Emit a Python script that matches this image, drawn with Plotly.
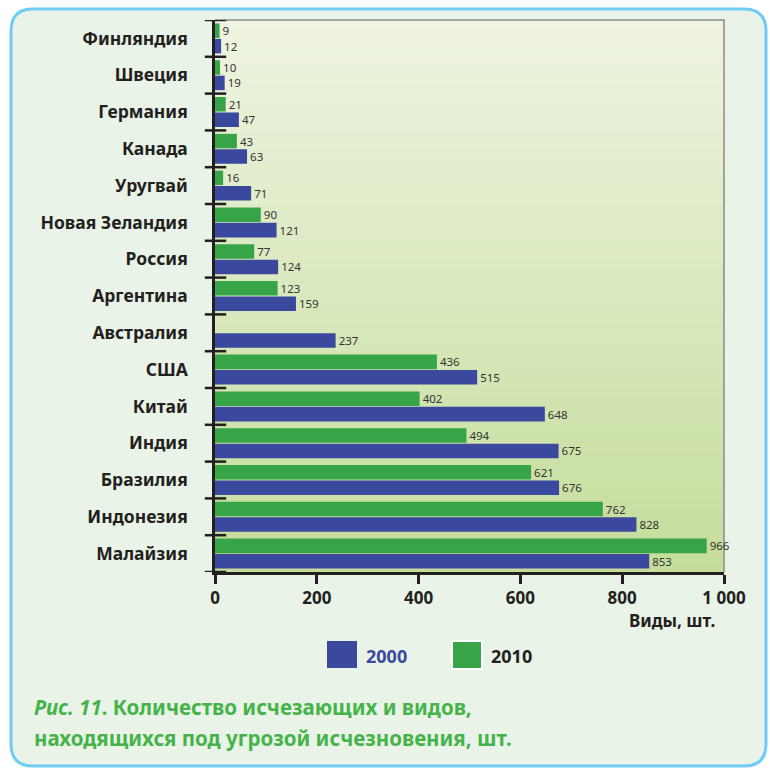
import plotly.graph_objects as go

# Threatened species counts by country (bottom to top on the chart)
countries = ["Малайзия", "Индонезия", "Бразилия", "Индия", "Китай", "США",
             "Австралия", "Аргентина", "Россия", "Новая Зеландия", "Уругвай",
             "Канада", "Германия", "Швеция", "Финляндия"]
species_2000 = [853, 828, 676, 675, 648, 515, 237, 159, 124, 121, 71, 63, 47, 19, 12]
species_2010 = [966, 762, 621, 494, 402, 436, None, 123, 77, 90, 16, 43, 21, 10, 9]

x_ticks = [0, 200, 400, 600, 800, 1000]
x_tick_text = ["0", "200", "400", "600", "800", "1 000"]

W, H = 770, 769
BLUE = "#3a499e"
GREEN = "#37a547"
CAPTION = "#46b34a"
FONT = "Noto Sans"


def px(x):
    return x / W


def py(y):
    return 1 - y / H


def labels(vals):
    return ["" if v is None else str(v) for v in vals]


fig = go.Figure()
fig.add_trace(go.Bar(
    y=countries, x=species_2000, orientation="h", name="2000",
    marker=dict(color=BLUE, line=dict(width=0)),
    text=labels(species_2000), textposition="outside", cliponaxis=False,
    constraintext="none",
    textfont=dict(family=FONT, size=11.5, color="#333333"),
))
fig.add_trace(go.Bar(
    y=countries, x=species_2010, orientation="h", name="2010",
    marker=dict(color=GREEN, line=dict(width=0)),
    text=labels(species_2010), textposition="outside", cliponaxis=False,
    constraintext="none",
    textfont=dict(family=FONT, size=11.5, color="#333333"),
))

shapes = []
# rounded frame around the whole figure
x0, x1, y0, y1, r = px(11), px(766), py(9), py(766), 22
rx, ry = r / W, r / H
path = (f"M {x0+rx},{y0} L {x1-rx},{y0} Q {x1},{y0} {x1},{y0-ry} "
        f"L {x1},{y1+ry} Q {x1},{y1} {x1-rx},{y1} L {x0+rx},{y1} "
        f"Q {x0},{y1} {x0},{y1+ry} L {x0},{y0-ry} Q {x0},{y0} {x0+rx},{y0} Z")
shapes.append(dict(type="path", path=path, xref="paper", yref="paper",
                   fillcolor="#e9f3e7", line=dict(color="#6fcdf3", width=3),
                   layer="below"))

# vertical gradient behind the bars
top_c = (239, 244, 226)
bot_c = (196, 221, 154)
n = 60
for i in range(n):
    t = (i + 0.5) / n
    c = tuple(round(top_c[k] + (bot_c[k] - top_c[k]) * t) for k in range(3))
    shapes.append(dict(type="rect", xref="x domain", yref="y domain",
                       x0=0, x1=1, y0=1 - (i + 1) / n - 0.002, y1=1 - i / n,
                       fillcolor=f"rgb{c}", line=dict(width=0), layer="below"))

# thin grey frame on top and right of the plotting area
shapes.append(dict(type="path", xref="x domain", yref="y domain",
                   path="M 0,1 L 1,1 L 1,0", line=dict(color="#8a8a8a", width=1.5),
                   layer="below"))

# crossing tick marks at category boundaries
for i in range(len(countries) + 1):
    shapes.append(dict(type="line", xref="x domain", yref="y",
                       x0=-0.02, x1=0.022, y0=i - 0.5, y1=i - 0.5,
                       line=dict(color="#231f20", width=2.5)))

# legend
shapes.append(dict(type="rect", xref="paper", yref="paper",
                   x0=px(327), x1=px(357), y0=py(668), y1=py(641),
                   fillcolor=BLUE, line=dict(width=0)))
shapes.append(dict(type="rect", xref="paper", yref="paper",
                   x0=px(452), x1=px(482), y0=py(669), y1=py(641),
                   fillcolor=GREEN, line=dict(color="white", width=2)))

annotations = [
    dict(text="2000", x=px(364), y=py(656), xref="paper", yref="paper",
         xanchor="left", yanchor="middle", showarrow=False,
         font=dict(family=FONT, size=18, color=BLUE, weight="bold")),
    dict(text="2010", x=px(489), y=py(656), xref="paper", yref="paper",
         xanchor="left", yanchor="middle", showarrow=False,
         font=dict(family=FONT, size=18, color="#231f20", weight="bold")),
    dict(text="Виды, шт.", x=px(717), y=py(620), xref="paper", yref="paper",
         xanchor="right", yanchor="middle", showarrow=False,
         font=dict(family=FONT, size=17, color="#231f20", weight="bold")),
    dict(text="<i>Рис. 11</i>. Количество исчезающих и видов,",
         x=px(32), y=py(707), xref="paper", yref="paper",
         xanchor="left", yanchor="middle", showarrow=False,
         font=dict(family=FONT, size=20.5, color=CAPTION, weight="bold")),
    dict(text="находящихся под угрозой исчезновения, шт.",
         x=px(32), y=py(738), xref="paper", yref="paper",
         xanchor="left", yanchor="middle", showarrow=False,
         font=dict(family=FONT, size=20.5, color=CAPTION, weight="bold")),
]

fig.update_layout(
    width=W, height=H,
    margin=dict(l=0, r=0, t=0, b=0, autoexpand=False),
    paper_bgcolor="white",
    plot_bgcolor="rgba(0,0,0,0)",
    barmode="group", bargap=0.16, bargroupgap=0.06,
    showlegend=False,
    shapes=shapes,
    annotations=annotations,
    xaxis=dict(
        domain=[px(215), px(724)], range=[0, 1000], automargin=False,
        tickvals=x_ticks, ticktext=x_tick_text,
        ticks="outside", ticklen=9, tickwidth=2.5, tickcolor="#231f20",
        showline=True, linecolor="#231f20", linewidth=2.5,
        showgrid=False, zeroline=False,
        tickfont=dict(family=FONT, size=17, color="#231f20", weight="bold"),
        ticklabelstandoff=0,
    ),
    yaxis=dict(
        domain=[py(572), py(20)], range=[-0.5, len(countries) - 0.5],
        automargin=False,
        categoryorder="array", categoryarray=countries,
        ticks="", showline=True, linecolor="#231f20", linewidth=2.5,
        showgrid=False, zeroline=False,
        tickfont=dict(family=FONT, size=17.5, color="#231f20", weight="bold"),
        ticklabelstandoff=21,
    ),
)

fig.write_html("out.html")
